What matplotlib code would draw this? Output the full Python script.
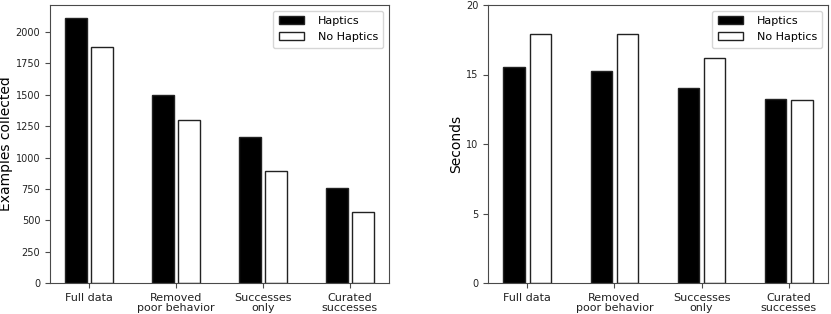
import matplotlib
matplotlib.use("Agg")
import matplotlib.pyplot as plt
import numpy as np

categories = ["Full data", "Removed\npoor behavior", "Successes\nonly", "Curated\nsuccesses"]
series_names = ["Haptics", "No Haptics"]
examples_haptics = [2110, 1497, 1166, 756]
examples_no_haptics = [1881, 1303, 889, 565]
seconds_haptics = [15.57, 15.27, 14.05, 13.27]
seconds_no_haptics = [17.9, 17.9, 16.2, 13.15]

spine_col = "#4a4a4a"
fig = plt.figure(figsize=(8.31, 3.14), dpi=100)
ax1 = fig.add_axes([50/831, 1-283/314, 339/831, 278/314])
ax2 = fig.add_axes([488/831, 1-283/314, 340/831, 278/314])

x = np.arange(len(categories))
w = 0.25
off = 0.15

def draw(ax, h, nh, ylabel):
    ax.bar(x - off, h, w, color="black", edgecolor="#222222", linewidth=1.0, label=series_names[0])
    ax.bar(x + off, nh, w, color="white", edgecolor="#222222", linewidth=1.0, label=series_names[1])
    ax.set_xticks(x)
    ax.set_xticklabels(categories, fontsize=8, color="#222222", linespacing=1.0)
    ax.tick_params(axis="y", labelsize=7, colors="#222222")
    ax.tick_params(axis="both", color=spine_col, length=3.5)
    for s in ax.spines.values():
        s.set_color(spine_col)
    ax.set_ylabel(ylabel, fontsize=10, labelpad=2)
    ax.legend(loc="upper right", fontsize=8, framealpha=0.8, handletextpad=1.2,
              handlelength=2.3, labelspacing=0.55, borderpad=0.5)

draw(ax1, examples_haptics, examples_no_haptics, "Examples collected")
draw(ax2, seconds_haptics, seconds_no_haptics, "Seconds")
ax2.set_ylim(0, 20)
ax2.set_yticks([0, 5, 10, 15, 20])

fig.savefig("out.png", dpi=100)
